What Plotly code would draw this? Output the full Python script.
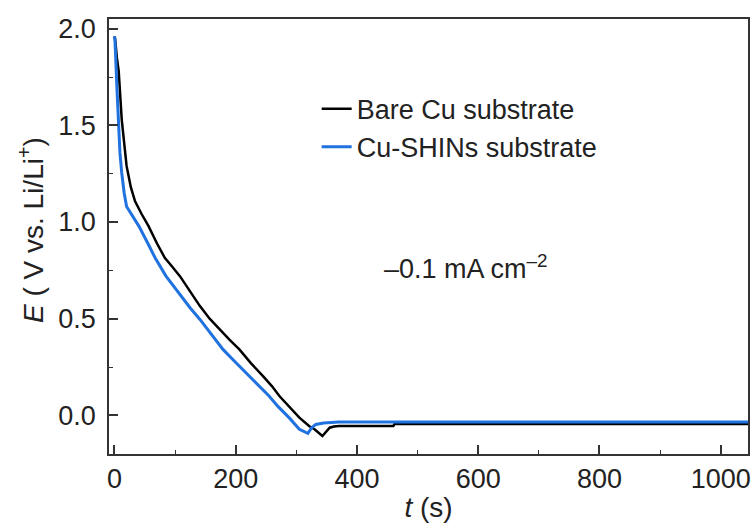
import plotly.graph_objects as go

# ---- data ----
bare_t = [0, 1, 4, 7, 12, 20, 27, 34, 45, 56, 70, 83, 95, 108, 125, 141, 157, 173, 190,
          206, 225, 245, 260, 272, 290, 305, 321, 330, 343, 350, 355, 362, 370, 400, 460,
          462, 1045]
bare_E = [1.96, 1.95, 1.85, 1.78, 1.53, 1.29, 1.18, 1.107, 1.04, 0.98, 0.89, 0.815, 0.77,
          0.72, 0.64, 0.565, 0.50, 0.444, 0.39, 0.341, 0.27, 0.203, 0.15, 0.10, 0.04,
          -0.012, -0.055, -0.072, -0.107, -0.085, -0.064, -0.058, -0.055, -0.055, -0.055,
          -0.045, -0.045]

shin_t = [0, 1, 4, 6.6, 9, 12, 16, 20, 30, 40, 55, 67, 85, 108, 125, 141, 160, 179, 198,
          217, 236, 255, 270, 288, 305, 319, 325, 332, 345, 370, 1045]
shin_E = [1.96, 1.93, 1.70, 1.495, 1.36, 1.254, 1.15, 1.08, 1.03, 0.98, 0.89, 0.815, 0.72,
          0.625, 0.555, 0.496, 0.42, 0.341, 0.28, 0.22, 0.16, 0.10, 0.045, -0.012, -0.072,
          -0.093, -0.065, -0.047, -0.04, -0.035, -0.035]

x_ticks = [0, 200, 400, 600, 800, 1000]
y_ticks = [0.0, 0.5, 1.0, 1.5, 2.0]
y_tick_text = ["0.0", "0.5", "1.0", "1.5", "2.0"]

FONT = "Liberation Sans, Arial, sans-serif"
AX = "#333333"

fig = go.Figure()
fig.add_trace(go.Scatter(x=bare_t, y=bare_E, mode="lines", name="Bare Cu substrate",
                         line=dict(color="black", width=2.5)))
fig.add_trace(go.Scatter(x=shin_t, y=shin_E, mode="lines", name="Cu-SHINs substrate",
                         line=dict(color="#1f72e0", width=3)))

fig.update_layout(
    width=755, height=528,
    margin=dict(l=109, r=4, t=19, b=74),
    plot_bgcolor="white", paper_bgcolor="white",
    font=dict(family=FONT, size=27, color="#222222"),
    showlegend=True,
    legend=dict(x=0.325, y=0.849, xanchor="left", yanchor="top",
                bgcolor="rgba(0,0,0,0)", font=dict(size=27),
                tracegroupgap=0, itemwidth=30),
    xaxis=dict(range=[-9, 1045], tickvals=x_ticks, ticks="inside", ticklen=9,
               tickwidth=1.5, tickcolor=AX, showline=True, linecolor=AX, linewidth=1.5,
               mirror=True, showgrid=False, zeroline=False,
               minor=dict(dtick=100, tick0=0, ticks="inside", ticklen=4, tickcolor=AX,
                          tickwidth=1.2),
               title=dict(text="<i>t</i> (s)", standoff=4, font=dict(size=28)),
               tickfont=dict(size=27)),
    yaxis=dict(range=[-0.2, 2.05], tickvals=y_ticks, ticktext=y_tick_text,
               ticks="inside", ticklen=9, tickwidth=1.5, tickcolor=AX, showline=True,
               linecolor=AX, linewidth=1.5, mirror=True, showgrid=False, zeroline=False,
               minor=dict(dtick=0.25, tick0=0, ticks="inside", ticklen=4, tickcolor=AX,
                          tickwidth=1.2),
               ticklabelstandoff=6, tickfont=dict(size=27)),
    annotations=[
        dict(text="<i>E</i> ( V vs. Li/Li<sup>+</sup>)", xref="paper", yref="paper",
             x=-0.122, y=0.515, textangle=-90, showarrow=False,
             xanchor="center", yanchor="middle", font=dict(size=28)),
        dict(text="–0.1 mA cm<sup>–2</sup>", xref="paper", yref="paper",
             x=0.558, y=0.43, showarrow=False, xanchor="center", yanchor="middle",
             font=dict(size=27)),
    ],
)

fig.write_html("out.html")
